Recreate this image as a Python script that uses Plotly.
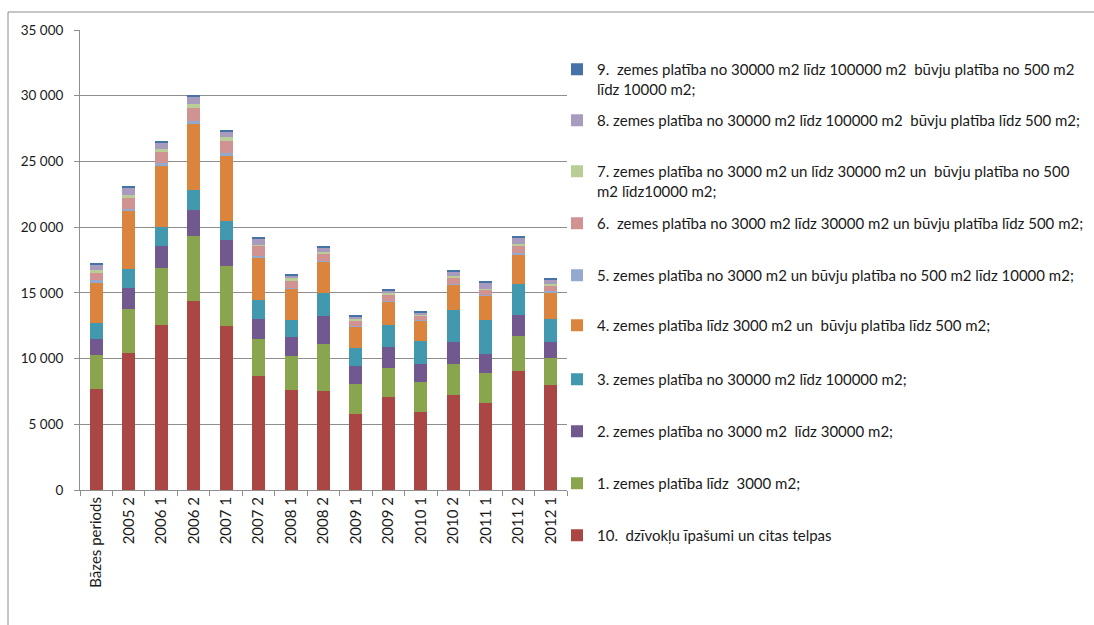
import plotly.graph_objects as go

periods = ["Bāzes periods", "2005 2", "2006 1", "2006 2", "2007 1", "2007 2", "2008 1",
           "2008 2", "2009 1", "2009 2", "2010 1", "2010 2", "2011 1", "2011 2", "2012 1"]

# Series values per period (stacked bottom to top)
s10_dzivokli = [7700, 10430, 12560, 14390, 12490, 8660, 7620, 7570, 5820, 7040, 5930, 7220, 6610, 9090, 8000]
s1_lidz3000 = [2580, 3330, 4340, 4940, 4580, 2860, 2560, 3570, 2240, 2280, 2300, 2400, 2310, 2660, 2050]
s2_3000_30000 = [1240, 1640, 1690, 2000, 1950, 1520, 1470, 2080, 1390, 1590, 1370, 1650, 1460, 1600, 1220]
s3_30000_100000 = [1220, 1440, 1420, 1490, 1470, 1400, 1270, 1750, 1340, 1650, 1750, 2430, 2540, 2330, 1750]
s4_lidz3000_buvj500 = [3040, 4390, 4640, 5040, 4920, 3240, 2400, 2380, 1640, 1750, 1520, 1930, 1870, 2260, 2000]
s5_no3000_buvj10000 = [180, 150, 225, 230, 250, 100, 80, 80, 60, 80, 100, 70, 80, 70, 100]
s6_3000_30000_buvj500 = [580, 860, 835, 990, 890, 790, 560, 550, 430, 510, 280, 460, 350, 530, 430]
s7_3000_30000_buvj10000 = [200, 230, 250, 300, 300, 100, 150, 130, 100, 100, 70, 130, 100, 160, 130]
s8_30000_100000_buvj500 = [410, 530, 490, 560, 430, 480, 230, 360, 200, 200, 180, 300, 430, 500, 330]
s9_30000_100000_buvj10000 = [70, 100, 100, 100, 100, 100, 100, 70, 100, 80, 100, 130, 130, 70, 130]

y_ticks = [0, 5000, 10000, 15000, 20000, 25000, 30000, 35000]

series = [
    ("10.  dzīvokļu īpašumi un citas telpas", s10_dzivokli, "#AA4643", 536),
    ("1. zemes platība līdz  3000 m2;", s1_lidz3000, "#89A54E", 484),
    ("2. zemes platība no 3000 m2  līdz 30000 m2;", s2_3000_30000, "#71588F", 432),
    ("3. zemes platība no 30000 m2 līdz 100000 m2;", s3_30000_100000, "#4198AF", 380),
    ("4. zemes platība līdz 3000 m2 un  būvju platība līdz 500 m2;", s4_lidz3000_buvj500, "#DB843D", 326),
    ("5. zemes platība no 3000 m2 un būvju platība no 500 m2 līdz 10000 m2;", s5_no3000_buvj10000, "#93A9CF", 276),
    ("6.  zemes platība no 3000 m2 līdz 30000 m2 un būvju platība līdz 500 m2;", s6_3000_30000_buvj500, "#D19392", 224),
    ("7. zemes platība no 3000 m2 un līdz 30000 m2 un  būvju platība no 500<br>m2 līdz10000 m2;", s7_3000_30000_buvj10000, "#B9CD96", 172),
    ("8. zemes platība no 30000 m2 līdz 100000 m2  būvju platība līdz 500 m2;", s8_30000_100000_buvj500, "#A99BBD", 121),
    ("9.  zemes platība no 30000 m2 līdz 100000 m2  būvju platība no 500 m2<br>līdz 10000 m2;", s9_30000_100000_buvj10000, "#4572A7", 70),
]

W, H = 1094, 625
ML, MR, MT, MB = 80, 527, 30, 135
plot_w = W - ML - MR
plot_h = H - MT - MB

FONT = "Lato"
fig = go.Figure()
layout_legends = {}
for i, (name, vals, color, ypix) in enumerate(series):
    key = "legend" if i == 0 else f"legend{i + 1}"
    fig.add_trace(go.Bar(
        x=periods, y=vals, name=name, marker=dict(color=color, line=dict(width=0)),
        legend=key,
    ))
    layout_legends[key] = dict(
        x=(557 - ML) / plot_w, xanchor="left",
        y=(H - MB - ypix + 17) / plot_h, yanchor="top",
        valign="top", bgcolor="rgba(0,0,0,0)",
        font=dict(family=FONT, size=15, color="#1a1a1a"),
        itemclick=False, itemdoubleclick=False,
    )

fig.update_layout(
    width=W, height=H,
    margin=dict(l=ML, r=MR, t=MT, b=MB, pad=0, autoexpand=False),
    barmode="stack", bargap=0.6,
    plot_bgcolor="white", paper_bgcolor="white",
    separators=". ",
    font=dict(family=FONT, size=13, color="#1a1a1a"),
    showlegend=True,
    **layout_legends,
    shapes=[dict(type="rect", xref="paper", yref="paper",
                 x0=(8 - ML) / plot_w, x1=(1110 - ML) / plot_w,
                 y0=(H - MB - 640) / plot_h, y1=(H - MB - 12) / plot_h,
                 line=dict(color="#8C8C8C", width=1), fillcolor="rgba(0,0,0,0)", layer="below")],
)
fig.update_yaxes(
    range=[0, 35000], tickvals=y_ticks, tickformat=",d",
    showgrid=True, gridcolor="#8E8E8E", gridwidth=1,
    showline=True, linecolor="#8E8E8E", linewidth=1,
    ticks="outside", ticklen=5, tickcolor="#8E8E8E",
    ticklabelstandoff=8, zeroline=False,
    tickfont=dict(family=FONT, size=13.5),
)
fig.update_xaxes(
    type="category", tickangle=-90,
    showline=True, linecolor="#8E8E8E", linewidth=1,
    ticks="outside", ticklen=5, tickcolor="#8E8E8E", tickson="boundaries",
    tickfont=dict(family=FONT, size=15),
)

fig.write_html("out.html")
